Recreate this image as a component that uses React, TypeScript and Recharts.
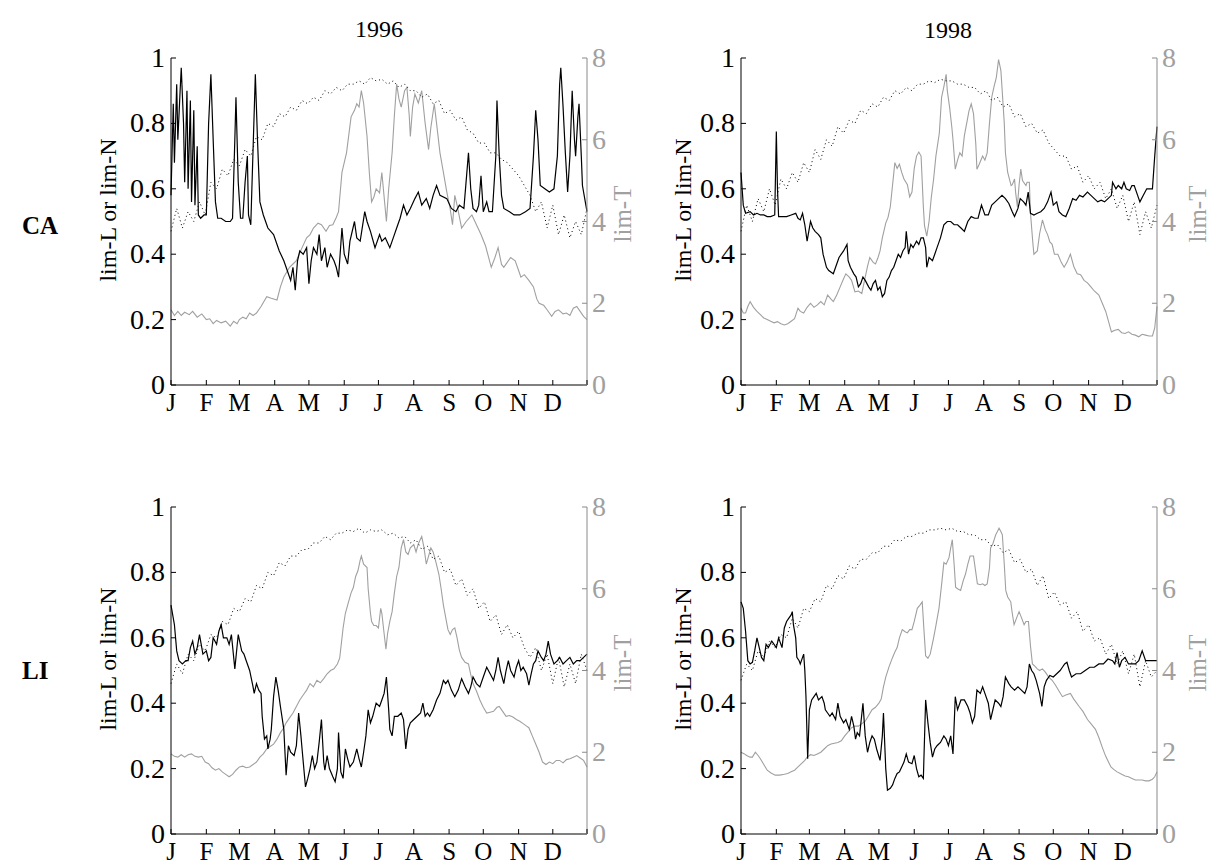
import { LineChart, Line, XAxis, YAxis } from "recharts";

type Pt = [number, number];

const FONT = '"Liberation Serif", "Times New Roman", serif';
const GRAY = "#a0a0a0";
const GRAY_AXIS = "#8a8a8a";

// axis ticks: month starts (day of year), lim scale and lim-T scale
const monthTicks = [0, 31, 60, 91, 121, 152, 182, 213, 244, 274, 305, 335, 365];
const monthLabels = ["J", "F", "M", "A", "M", "J", "J", "A", "S", "O", "N", "D", ""];
const limTicks = [0, 0.2, 0.4, 0.6, 0.8, 1];
const tTicks = [0, 2, 4, 6, 8];

// lim-N (solid black), [day, value]
const ca96N: Pt[] = [
  [0, 0.58], [2, 0.86], [3, 0.68], [5, 0.92], [6, 0.75], [8, 0.9], [9, 0.97], [11, 0.8], [12, 0.62], [14, 0.9],
  [15, 0.6], [17, 0.87], [18, 0.56], [20, 0.84], [21, 0.55], [23, 0.73], [24, 0.52], [26, 0.51], [29, 0.52], [31, 0.52],
  [33, 0.8], [35, 0.95], [37, 0.75], [39, 0.56], [41, 0.51], [44, 0.51], [48, 0.5], [52, 0.5], [54, 0.51], [56, 0.75],
  [57, 0.88], [59, 0.62], [61, 0.51], [63, 0.51], [65, 0.62], [67, 0.7], [68, 0.52], [70, 0.49], [72, 0.72], [74, 0.95],
  [76, 0.74], [78, 0.56], [81, 0.52], [85, 0.48], [90, 0.46], [95, 0.41], [99, 0.38], [102, 0.35], [105, 0.32], [107, 0.36],
  [109, 0.29], [111, 0.38], [113, 0.41], [116, 0.4], [119, 0.42], [121, 0.31], [123, 0.38], [125, 0.42], [128, 0.4], [130, 0.46],
  [132, 0.38], [135, 0.42], [137, 0.36], [140, 0.4], [143, 0.38], [145, 0.36], [147, 0.33], [150, 0.48], [152, 0.4], [155, 0.37],
  [157, 0.44], [161, 0.5], [163, 0.45], [166, 0.44], [170, 0.53], [172, 0.5], [175, 0.47], [179, 0.42], [183, 0.46], [185, 0.44],
  [188, 0.45], [192, 0.42], [196, 0.46], [198, 0.48], [201, 0.51], [204, 0.55], [207, 0.52], [210, 0.54], [214, 0.57], [217, 0.59],
  [220, 0.55], [224, 0.57], [227, 0.54], [230, 0.58], [233, 0.61], [236, 0.58], [242, 0.57], [246, 0.54], [250, 0.53], [253, 0.55],
  [257, 0.54], [261, 0.71], [263, 0.6], [265, 0.54], [268, 0.53], [270, 0.55], [272, 0.64], [274, 0.53], [277, 0.56], [279, 0.53],
  [282, 0.53], [285, 0.7], [286, 0.87], [288, 0.7], [290, 0.58], [292, 0.54], [297, 0.53], [301, 0.52], [306, 0.52], [311, 0.53],
  [315, 0.54], [318, 0.7], [320, 0.84], [322, 0.75], [324, 0.61], [328, 0.6], [332, 0.59], [336, 0.6], [339, 0.7], [341, 0.92],
  [342, 0.97], [344, 0.85], [346, 0.71], [348, 0.59], [350, 0.7], [352, 0.9], [354, 0.75], [355, 0.7], [357, 0.82], [358, 0.86],
  [360, 0.7], [361, 0.61], [364, 0.55], [365, 0.53],
];

const ca98N: Pt[] = [
  [0, 0.65], [2, 0.55], [4, 0.525], [8, 0.53], [11, 0.52], [14, 0.525], [17, 0.52], [20, 0.52], [23, 0.515], [26, 0.515],
  [29.6, 0.52], [31, 0.775], [32, 0.6], [33, 0.515], [37, 0.515], [40, 0.515], [44, 0.52], [48, 0.525], [50, 0.51], [52, 0.505],
  [54, 0.525], [56, 0.49], [58, 0.44], [61, 0.5], [63, 0.48], [65, 0.47], [68, 0.46], [70, 0.45], [72, 0.4], [75, 0.36],
  [77, 0.35], [81, 0.34], [84, 0.37], [86, 0.39], [88, 0.4], [90, 0.41], [93, 0.43], [94, 0.38], [96, 0.36], [99, 0.34],
  [101, 0.33], [103, 0.3], [105, 0.31], [107, 0.33], [109, 0.32], [112, 0.3], [114, 0.29], [116, 0.31], [118, 0.32], [120, 0.29],
  [122, 0.3], [124, 0.27], [126, 0.28], [128, 0.32], [130, 0.33], [132, 0.35], [134, 0.36], [136, 0.38], [138, 0.4], [140, 0.39],
  [142, 0.41], [144, 0.42], [145, 0.47], [147, 0.4], [149, 0.43], [151, 0.42], [154, 0.44], [156, 0.43], [158, 0.45], [160, 0.45],
  [162, 0.42], [163, 0.36], [165, 0.39], [168, 0.38], [170, 0.4], [172, 0.42], [175, 0.45], [178, 0.49], [181, 0.5], [184, 0.5],
  [187, 0.49], [190, 0.49], [193, 0.48], [196, 0.47], [199, 0.5], [202, 0.515], [205, 0.51], [208, 0.51], [211, 0.55], [214, 0.52],
  [217, 0.52], [220, 0.55], [223, 0.56], [226, 0.57], [229, 0.58], [232, 0.57], [235, 0.555], [238, 0.53], [240, 0.515], [243, 0.54],
  [245, 0.57], [248, 0.56], [250, 0.55], [252, 0.59], [254, 0.525], [257, 0.52], [260, 0.525], [263, 0.53], [266, 0.54], [269, 0.56],
  [272, 0.59], [274, 0.55], [277, 0.56], [279, 0.53], [282, 0.52], [285, 0.515], [288, 0.54], [291, 0.57], [294, 0.565], [297, 0.58],
  [300, 0.575], [304, 0.59], [307, 0.58], [310, 0.57], [313, 0.56], [316, 0.565], [319, 0.56], [322, 0.57], [325, 0.58], [326, 0.62],
  [329, 0.6], [331, 0.61], [334, 0.6], [336, 0.62], [338, 0.6], [341, 0.595], [343, 0.61], [345, 0.61], [348, 0.58], [350, 0.56],
  [353, 0.58], [356, 0.6], [359, 0.6], [361, 0.6], [363, 0.7], [365, 0.79],
];

const li96N: Pt[] = [
  [0, 0.7], [3, 0.64], [5, 0.56], [7, 0.53], [10, 0.52], [13, 0.53], [15, 0.53], [17, 0.57], [19, 0.59], [21, 0.55],
  [23, 0.57], [25, 0.61], [27, 0.57], [28, 0.55], [31, 0.56], [33, 0.53], [35, 0.54], [37, 0.6], [40, 0.58], [42, 0.62],
  [44, 0.64], [46, 0.6], [49, 0.6], [51, 0.58], [53, 0.61], [56, 0.505], [59, 0.61], [62, 0.56], [64, 0.55], [66, 0.53],
  [69, 0.5], [72, 0.45], [73, 0.43], [75, 0.46], [77, 0.44], [79, 0.43], [80, 0.36], [82, 0.29], [84, 0.3], [85, 0.26],
  [87, 0.29], [88, 0.32], [90, 0.42], [92, 0.48], [94, 0.44], [96, 0.39], [99, 0.32], [101, 0.18], [103, 0.27], [105, 0.25],
  [108, 0.24], [110, 0.27], [112, 0.37], [114, 0.3], [115, 0.26], [118, 0.144], [120, 0.17], [122, 0.2], [124, 0.24], [126, 0.2],
  [128, 0.22], [130, 0.28], [132, 0.35], [134, 0.22], [135, 0.195], [137, 0.24], [139, 0.2], [142, 0.175], [144, 0.16], [146, 0.2],
  [147, 0.31], [149, 0.19], [151, 0.17], [153, 0.26], [155, 0.23], [157, 0.205], [160, 0.22], [163, 0.26], [165, 0.23], [167, 0.205],
  [169, 0.25], [171, 0.3], [173, 0.38], [175, 0.34], [177, 0.36], [180, 0.4], [183, 0.39], [185, 0.41], [187, 0.43], [189, 0.48],
  [191, 0.38], [192, 0.32], [194, 0.3], [196, 0.36], [199, 0.36], [202, 0.37], [204, 0.35], [206, 0.26], [208, 0.32], [210, 0.34],
  [213, 0.35], [216, 0.36], [219, 0.37], [221, 0.4], [223, 0.36], [225, 0.37], [227, 0.36], [230, 0.38], [233, 0.41], [236, 0.43],
  [239, 0.47], [241, 0.46], [243, 0.47], [246, 0.44], [249, 0.42], [252, 0.44], [255, 0.475], [258, 0.45], [261, 0.43], [263, 0.45],
  [265, 0.48], [268, 0.46], [271, 0.45], [274, 0.48], [277, 0.51], [280, 0.49], [283, 0.47], [285, 0.5], [287, 0.54], [289, 0.5],
  [292, 0.46], [294, 0.5], [296, 0.53], [298, 0.5], [301, 0.48], [303, 0.51], [305, 0.53], [307, 0.5], [309, 0.51], [312, 0.49],
  [314, 0.455], [316, 0.49], [318, 0.52], [320, 0.53], [322, 0.56], [325, 0.54], [327, 0.53], [329, 0.55], [331, 0.59], [333, 0.55],
  [336, 0.52], [339, 0.53], [341, 0.54], [344, 0.52], [347, 0.53], [350, 0.54], [353, 0.52], [356, 0.53], [359, 0.53], [362, 0.54],
  [365, 0.55],
];

const li98N: Pt[] = [
  [0, 0.71], [2, 0.69], [4, 0.62], [6, 0.53], [8, 0.52], [10, 0.525], [12, 0.56], [14, 0.6], [16, 0.57], [18, 0.54],
  [20, 0.53], [22, 0.58], [24, 0.57], [27, 0.59], [29, 0.58], [31, 0.57], [33, 0.6], [35, 0.58], [36, 0.57], [38, 0.63],
  [40, 0.65], [42, 0.66], [44, 0.67], [45, 0.68], [46, 0.64], [48, 0.6], [49, 0.54], [51, 0.53], [52, 0.52], [54, 0.54],
  [55, 0.55], [56, 0.5], [57, 0.42], [58.5, 0.23], [60, 0.38], [62, 0.41], [64, 0.42], [66, 0.43], [68, 0.41], [71, 0.42],
  [73, 0.4], [74, 0.38], [76, 0.37], [78, 0.36], [80, 0.37], [83, 0.35], [85, 0.4], [87, 0.36], [90, 0.34], [92, 0.35],
  [95, 0.32], [97, 0.36], [99, 0.33], [100.5, 0.29], [102, 0.31], [104, 0.3], [107, 0.4], [109, 0.3], [111, 0.25], [113, 0.28],
  [115, 0.3], [117, 0.29], [119, 0.26], [122, 0.225], [124, 0.3], [125, 0.37], [127, 0.2], [128.5, 0.134], [131, 0.14], [133, 0.15],
  [135, 0.17], [137, 0.185], [139, 0.19], [141, 0.205], [143, 0.22], [145, 0.245], [147, 0.22], [150, 0.215], [152, 0.24], [154, 0.2],
  [156, 0.175], [158, 0.18], [160, 0.17], [162, 0.41], [164, 0.34], [166, 0.28], [168, 0.235], [170, 0.26], [172, 0.27], [175, 0.28],
  [178, 0.3], [180, 0.29], [182, 0.27], [184, 0.3], [186, 0.245], [188, 0.42], [190, 0.38], [193, 0.41], [196, 0.41], [199, 0.39],
  [201, 0.37], [203, 0.34], [205, 0.36], [207, 0.44], [210, 0.43], [212, 0.45], [214, 0.43], [217, 0.4], [219, 0.35], [221, 0.38],
  [223, 0.41], [226, 0.4], [228, 0.39], [230, 0.42], [232, 0.48], [235, 0.46], [237, 0.45], [240, 0.44], [243, 0.45], [246, 0.44],
  [249, 0.43], [251, 0.45], [253, 0.52], [255, 0.5], [257, 0.49], [259, 0.47], [262, 0.43], [264, 0.39], [266, 0.45], [268, 0.47],
  [271, 0.485], [274, 0.48], [277, 0.49], [280, 0.5], [282, 0.51], [284, 0.52], [286, 0.525], [288, 0.5], [290, 0.48], [294, 0.49],
  [298, 0.49], [302, 0.5], [306, 0.51], [310, 0.51], [314, 0.52], [318, 0.52], [322, 0.535], [326, 0.53], [328, 0.52], [330, 0.555],
  [332, 0.51], [334, 0.53], [337, 0.54], [340, 0.52], [343, 0.52], [346, 0.52], [349, 0.53], [352, 0.56], [355, 0.53], [358, 0.53],
  [361, 0.53], [365, 0.53],
];

// lim-T (gray, right axis), [day, value]
const ca96T: Pt[] = [
  [0, 1.84], [3, 1.7], [6, 1.8], [9, 1.7], [12, 1.78], [16, 1.72], [19, 1.8], [23, 1.66], [27, 1.74], [31, 1.6],
  [34, 1.62], [37, 1.5], [40, 1.58], [44, 1.52], [48, 1.56], [52, 1.44], [55, 1.56], [58, 1.5], [60, 1.6], [63, 1.66],
  [66, 1.62], [69, 1.76], [72, 1.7], [75, 1.76], [79, 1.92], [84, 2.16], [88, 2.12], [93, 2.08], [96, 2.4], [99, 2.64],
  [104, 2.88], [107, 2.96], [110, 3.04], [114, 3.3], [119, 3.6], [122, 3.68], [125, 3.84], [129, 3.96], [132, 3.92], [136, 3.76],
  [139, 3.9], [142, 3.92], [145, 4.1], [147, 4.24], [150, 5.2], [154, 5.68], [158, 6.56], [161, 6.72], [163, 6.88], [165, 6.8],
  [167, 7.2], [169, 6.9], [172, 6.08], [174, 5.2], [176, 4.48], [178, 4.6], [180, 4.8], [183, 4.7], [185, 5.2], [187, 4.6],
  [189, 4.0], [191, 4.8], [194, 5.68], [196, 6.6], [198, 7.36], [200, 7.0], [202, 6.8], [205, 7.2], [207, 7.28], [209, 6.6],
  [210, 6.08], [212, 6.8], [214, 7.12], [217, 6.9], [220, 7.2], [223, 6.4], [226, 5.76], [228, 6.3], [231, 6.88], [233, 6.4],
  [236, 5.68], [239, 5.2], [242, 4.72], [245, 4.3], [247, 3.92], [249, 4.64], [251, 4.4], [255, 3.84], [259, 4.0], [264, 4.16],
  [268, 3.92], [272, 3.68], [276, 3.4], [281, 2.88], [284, 3.1], [287, 3.36], [290, 2.95], [292, 2.88], [295, 3.0], [298, 3.12],
  [302, 3.04], [305, 2.8], [307, 2.64], [310, 2.7], [314, 2.56], [318, 2.4], [321, 2.1], [323, 2.0], [327, 1.95], [330, 1.84],
  [334, 1.68], [337, 1.8], [340, 1.84], [344, 1.74], [347, 1.76], [350, 1.7], [353, 1.88], [356, 1.92], [359, 1.8], [362, 1.68],
  [365, 1.6],
];

const ca98T: Pt[] = [
  [0, 1.88], [2, 1.76], [4, 1.76], [6, 1.92], [8, 2.04], [11, 1.9], [14, 1.8], [17, 1.72], [20, 1.64], [23, 1.6],
  [26, 1.56], [29, 1.52], [32, 1.55], [35, 1.5], [38, 1.47], [41, 1.5], [44, 1.56], [47, 1.62], [50, 1.88], [52, 1.8],
  [55, 1.76], [58, 1.9], [61, 2.0], [64, 1.9], [67, 1.96], [70, 2.04], [73, 1.96], [76, 2.2], [79, 2.1], [81, 2.04],
  [84, 2.2], [87, 2.4], [90, 2.6], [92, 2.72], [95, 2.64], [97, 2.56], [100, 2.28], [103, 2.3], [106, 2.24], [109, 2.64],
  [111, 2.9], [113, 3.12], [116, 3.0], [118, 2.96], [120, 3.1], [122, 3.28], [124, 3.6], [127, 3.96], [129, 4.1], [131, 4.36],
  [133, 4.9], [135, 5.44], [137, 5.3], [139, 5.4], [141, 5.2], [143, 5.04], [146, 4.9], [148, 4.6], [150, 4.72], [152, 5.3],
  [154, 5.6], [156, 5.7], [158, 5.6], [160, 4.36], [161, 3.9], [163, 3.64], [165, 4.0], [167, 4.6], [169, 5.04], [171, 5.6],
  [174, 6.16], [176, 7.04], [178, 7.3], [180, 7.6], [181, 7.2], [183, 6.8], [185, 6.3], [186, 6.0], [188, 5.28], [190, 5.5],
  [192, 5.68], [194, 5.6], [196, 6.1], [198, 6.4], [200, 6.7], [202, 6.88], [204, 6.64], [206, 5.9], [207, 5.28], [209, 5.4],
  [212, 5.6], [214, 5.5], [216, 5.68], [218, 6.4], [220, 7.04], [222, 7.3], [224, 7.52], [226, 7.96], [228, 7.7], [229, 7.28],
  [231, 6.4], [232, 5.68], [234, 5.2], [237, 4.88], [238, 4.9], [240, 5.04], [241, 4.7], [242.5, 4.36], [244, 4.9], [245.5, 5.28],
  [247, 5.0], [250, 4.88], [251, 4.96], [253, 4.96], [254, 4.2], [256, 3.5], [257, 3.2], [260, 3.28], [262, 3.7], [264.5, 4.04],
  [267, 3.8], [269, 3.68], [271, 3.5], [273, 3.44], [275, 3.2], [278, 3.2], [281, 3.0], [283.5, 2.88], [286, 3.0], [289, 3.2],
  [292, 2.9], [295, 2.72], [298, 2.7], [301, 2.56], [304, 2.5], [307, 2.4], [310, 2.3], [314, 2.2], [317, 2.0], [320, 1.8],
  [323, 1.5], [325, 1.3], [328, 1.34], [331, 1.36], [334, 1.28], [337, 1.26], [340, 1.3], [343, 1.24], [346, 1.22], [349, 1.18],
  [352, 1.24], [355, 1.22], [358, 1.2], [361, 1.2], [363, 1.4], [365, 1.92],
];

const li96T: Pt[] = [
  [0, 1.96], [3, 1.9], [6, 1.88], [9, 1.94], [12, 1.88], [15, 1.94], [18, 1.96], [21, 1.9], [24, 1.88], [27, 1.9],
  [30, 1.76], [33, 1.72], [36, 1.62], [39, 1.56], [42, 1.6], [45, 1.52], [48, 1.46], [51, 1.4], [54, 1.46], [57, 1.56],
  [60, 1.64], [63, 1.66], [66, 1.62], [69, 1.64], [72, 1.7], [75, 1.76], [78, 1.88], [81, 1.96], [84, 2.08], [87, 2.14],
  [90, 2.2], [93, 2.32], [96, 2.48], [99, 2.6], [101, 2.72], [104, 2.84], [107, 2.96], [110, 3.12], [113, 3.28], [116, 3.4],
  [119, 3.52], [122, 3.68], [125, 3.6], [128, 3.76], [131, 3.7], [134, 3.8], [137, 3.92], [140, 4.0], [143, 4.04], [146, 4.16],
  [148, 4.3], [151, 5.04], [153, 5.4], [155, 5.6], [158, 5.9], [160, 6.03], [162, 6.3], [164, 6.44], [166, 6.7], [167, 6.8],
  [169, 6.6], [172, 6.52], [173, 6.0], [175, 5.4], [176, 5.2], [178, 5.1], [180, 5.1], [182, 5.04], [184, 5.52], [185, 5.4],
  [187, 4.9], [188.6, 4.52], [190, 4.9], [192, 5.2], [194, 5.44], [196, 5.9], [198, 6.3], [200, 6.52], [202, 7.0], [204, 7.2],
  [206, 6.9], [208, 6.84], [210, 7.0], [213, 7.08], [215, 6.9], [217, 7.1], [220, 7.28], [222, 7.0], [224, 6.6], [226, 6.8],
  [228, 7.0], [230, 6.9], [232, 6.7], [235, 6.36], [237, 6.0], [239, 5.6], [241, 5.3], [243, 5.0], [245, 4.88], [247, 5.0],
  [249, 5.04], [251, 4.8], [253, 4.5], [255, 4.32], [258, 4.2], [261, 4.16], [263, 3.9], [265, 3.68], [268, 3.5], [271, 3.28],
  [274, 3.1], [277, 2.96], [280, 2.98], [283, 3.0], [286, 3.1], [288, 3.12], [291, 3.0], [294, 2.88], [297, 2.9], [300, 2.86],
  [303, 2.8], [306, 2.76], [309, 2.7], [312, 2.64], [314, 2.6], [317, 2.4], [320, 2.2], [323, 2.0], [326, 1.76], [329, 1.7],
  [332, 1.76], [335, 1.72], [338, 1.8], [341, 1.8], [344, 1.74], [347, 1.82], [350, 1.84], [353, 1.88], [356, 1.92], [359, 1.86],
  [362, 1.8], [365, 1.64],
];

const li98T: Pt[] = [
  [0, 2.0], [3, 1.96], [5, 1.92], [8, 1.88], [10, 1.88], [12.6, 2.0], [15, 1.92], [17, 1.84], [20, 1.7], [23, 1.56],
  [26, 1.5], [30, 1.44], [34, 1.44], [38, 1.46], [41, 1.48], [44, 1.52], [47, 1.56], [50, 1.64], [53, 1.72], [56, 1.8],
  [58, 1.88], [61, 1.94], [64, 1.92], [67, 1.96], [70, 2.0], [73, 2.08], [76, 2.16], [79, 2.2], [82, 2.22], [85, 2.24],
  [88, 2.28], [91, 2.4], [94, 2.5], [97, 2.6], [100, 2.64], [103, 2.64], [106, 2.7], [109, 2.76], [112, 2.9], [115, 3.04],
  [118, 3.1], [121, 3.2], [123, 3.3], [125, 3.6], [127, 3.84], [130, 4.1], [133, 4.32], [135, 4.45], [137, 4.56], [139, 4.8],
  [141.5, 5.0], [144, 4.95], [146, 4.92], [148, 5.0], [150, 5.0], [152, 5.2], [154.7, 5.52], [157, 5.6], [159, 5.68], [160.5, 5.0],
  [162, 4.36], [164, 4.3], [166, 4.4], [169, 4.8], [171, 5.1], [173.7, 5.52], [176, 6.1], [178, 6.64], [180, 6.6], [182.5, 6.76],
  [184, 7.0], [185.4, 7.2], [187, 6.6], [188.3, 6.04], [190, 6.0], [192.7, 5.96], [195, 6.2], [197, 6.36], [199, 6.6], [201, 6.8],
  [204, 6.8], [206, 6.4], [207.4, 6.12], [210, 6.1], [212, 6.12], [214, 6.08], [216, 6.12], [218, 6.5], [219, 7.0], [221, 7.1],
  [223.5, 7.32], [225, 7.4], [226.4, 7.48], [228, 7.4], [229.3, 7.32], [231, 6.6], [232.3, 5.96], [234, 5.8], [236.7, 5.68], [238, 5.4],
  [239.6, 5.12], [242, 5.3], [244, 5.44], [246, 5.3], [248.4, 5.12], [250, 5.2], [252.2, 5.2], [254, 4.6], [255.7, 4.16], [258, 4.1],
  [260, 4.04], [262, 4.0], [264.5, 4.04], [267, 3.96], [270, 3.84], [273, 3.76], [276, 3.64], [279, 3.5], [282, 3.36], [285, 3.4],
  [289, 3.44], [292, 3.3], [296.7, 3.12], [300, 3.0], [304, 2.8], [307, 2.7], [311, 2.56], [314, 2.36], [317, 2.12], [320, 1.9],
  [324.6, 1.64], [327, 1.58], [330, 1.52], [334, 1.46], [337, 1.42], [340, 1.4], [343, 1.36], [346, 1.32], [349, 1.32], [352, 1.32],
  [355, 1.3], [358, 1.3], [361, 1.34], [363, 1.4], [365, 1.52],
];

// lim-L (dotted black), one value every 5 days from 1 Jan
const L_STEP = 5;
const ca96L = [
  0.47, 0.54, 0.48, 0.53, 0.5, 0.56, 0.52, 0.62, 0.6, 0.66,
  0.64, 0.69, 0.67, 0.72, 0.7, 0.76, 0.75, 0.8, 0.79, 0.83,
  0.82, 0.85, 0.84, 0.87, 0.86, 0.88, 0.87, 0.9, 0.89, 0.91,
  0.9, 0.92, 0.92, 0.93, 0.92, 0.94, 0.93, 0.935, 0.92, 0.93,
  0.91, 0.92, 0.9, 0.9, 0.88, 0.89, 0.86, 0.87, 0.83, 0.84,
  0.81, 0.82, 0.78, 0.77, 0.74, 0.74, 0.71, 0.71, 0.69, 0.68,
  0.66, 0.64, 0.61, 0.58, 0.53, 0.56, 0.48, 0.55, 0.46, 0.52,
  0.45, 0.5, 0.46, 0.54,
];
const ca98L = [
  0.47, 0.55, 0.5, 0.57, 0.53, 0.6, 0.55, 0.63, 0.6, 0.65,
  0.62, 0.68, 0.65, 0.72, 0.69, 0.75, 0.73, 0.79, 0.77, 0.81,
  0.8, 0.84, 0.83, 0.86, 0.85, 0.88, 0.87, 0.9, 0.89, 0.91,
  0.9, 0.92, 0.92, 0.93, 0.925, 0.935, 0.93, 0.93, 0.92, 0.92,
  0.91, 0.91, 0.89, 0.9, 0.87, 0.88, 0.85, 0.86, 0.82, 0.83,
  0.79, 0.8, 0.77, 0.78, 0.74, 0.72, 0.7, 0.7, 0.66, 0.67,
  0.62, 0.64, 0.6, 0.62, 0.57, 0.6, 0.54, 0.58, 0.5, 0.56,
  0.46, 0.53, 0.48, 0.55,
];
const li96L = [
  0.46, 0.52, 0.49, 0.55, 0.53, 0.58, 0.56, 0.61, 0.6, 0.65,
  0.64, 0.69, 0.68, 0.72, 0.71, 0.76, 0.75, 0.8, 0.79, 0.83,
  0.82, 0.85, 0.85, 0.87, 0.87, 0.89, 0.89, 0.91, 0.9, 0.92,
  0.92, 0.93, 0.925, 0.935, 0.92, 0.93, 0.925, 0.93, 0.915, 0.92,
  0.905, 0.91, 0.89, 0.9, 0.87, 0.88, 0.84, 0.85, 0.8, 0.81,
  0.76, 0.78, 0.73, 0.75, 0.69, 0.71, 0.65, 0.67, 0.61, 0.64,
  0.6, 0.62, 0.57, 0.54, 0.57, 0.5, 0.55, 0.46, 0.54, 0.45,
  0.52, 0.46, 0.55, 0.5,
];
const li98L = [
  0.47, 0.52, 0.5, 0.56, 0.54, 0.59, 0.57, 0.61, 0.6, 0.66,
  0.63, 0.69, 0.68, 0.72, 0.71, 0.76, 0.75, 0.79, 0.78, 0.82,
  0.81, 0.84, 0.84, 0.86, 0.86, 0.88, 0.88, 0.9, 0.895, 0.91,
  0.91, 0.92, 0.92, 0.93, 0.93, 0.935, 0.93, 0.935, 0.925, 0.925,
  0.915, 0.915, 0.9, 0.9, 0.88, 0.885, 0.86, 0.87, 0.83, 0.84,
  0.8, 0.81, 0.76, 0.79, 0.72, 0.74, 0.7, 0.71, 0.66, 0.68,
  0.62, 0.64, 0.59, 0.6, 0.55, 0.58, 0.52, 0.56, 0.49, 0.55,
  0.45, 0.53, 0.48, 0.5,
];

const rows = (pts: Pt[]) => pts.map(([day, v]) => ({ day, v }));
const stepRows = (vals: number[]) => vals.map((v, i) => ({ day: Math.min(i * L_STEP, 365), v }));

// plot-area geometry; TOP_PAD leaves room for the "1" / "8" labels at the top
const PLOT_W = 416;
const PLOT_H = 327;
const LEFT_W = 60;
const RIGHT_W = 50;
const BOTTOM_H = 34;
const TOP_PAD = 20;

const MonthTick = (props: any) => {
  const { x, y, payload } = props;
  const label = monthLabels[monthTicks.indexOf(payload.value)];
  return (
    <g>
      <line x1={x} x2={x} y1={y} y2={y - 5} stroke="#000" />
      <text x={x} y={y + 26} textAnchor="middle" fontFamily={FONT} fontSize={25} fill="#000">
        {label}
      </text>
    </g>
  );
};

const TopTick = (props: any) => {
  const { x, y } = props;
  return <line x1={x} x2={x} y1={y} y2={y + 5} stroke="#000" />;
};

const LimTick = (props: any) => {
  const { x, y, payload } = props;
  return (
    <g>
      <line x1={x} x2={x + 5} y1={y} y2={y} stroke="#000" />
      <text x={x - 6} y={y + 9} textAnchor="end" fontFamily={FONT} fontSize={28} fill="#000">
        {String(payload.value)}
      </text>
    </g>
  );
};

const MirrorTick = (props: any) => {
  const { x, y } = props;
  return <line x1={x} x2={x - 5} y1={y} y2={y} stroke="#000" />;
};

const TTick = (props: any) => {
  const { x, y, payload } = props;
  return (
    <g>
      <line x1={x} x2={x - 5} y1={y} y2={y} stroke={GRAY_AXIS} />
      <text x={x + 5} y={y + 9} textAnchor="start" fontFamily={FONT} fontSize={28} fill={GRAY}>
        {String(payload.value)}
      </text>
    </g>
  );
};

type PanelProps = { left: number; top: number; n: Pt[]; t: Pt[]; l: number[] };

const Panel = ({ left, top, n, t, l }: PanelProps) => (
  <div style={{ position: "absolute", left: left - LEFT_W, top: top - TOP_PAD }}>
    <LineChart
      width={LEFT_W + PLOT_W + RIGHT_W}
      height={TOP_PAD + PLOT_H + BOTTOM_H}
      margin={{ top: TOP_PAD, right: 0, bottom: 0, left: 0 }}
    >
      <XAxis
        xAxisId="b"
        type="number"
        dataKey="day"
        domain={[0, 365]}
        ticks={monthTicks}
        interval={0}
        height={BOTTOM_H}
        tickSize={0}
        tickMargin={0}
        tickLine={false}
        axisLine={{ stroke: "#000" }}
        tick={MonthTick}
      />
      <XAxis
        xAxisId="t"
        orientation="top"
        type="number"
        dataKey="day"
        domain={[0, 365]}
        ticks={monthTicks}
        interval={0}
        height={0}
        tickSize={0}
        tickMargin={0}
        tickLine={false}
        axisLine={{ stroke: "#000" }}
        tick={TopTick}
      />
      <YAxis
        yAxisId="l"
        domain={[0, 1]}
        ticks={limTicks}
        interval={0}
        width={LEFT_W}
        tickSize={0}
        tickMargin={0}
        tickLine={false}
        axisLine={{ stroke: "#000" }}
        tick={LimTick}
      />
      <YAxis
        yAxisId="lm"
        orientation="right"
        domain={[0, 1]}
        ticks={limTicks}
        interval={0}
        width={0}
        tickSize={0}
        tickMargin={0}
        tickLine={false}
        axisLine={false}
        tick={MirrorTick}
      />
      <YAxis
        yAxisId="r"
        orientation="right"
        domain={[0, 8]}
        ticks={tTicks}
        interval={0}
        width={RIGHT_W}
        tickSize={0}
        tickMargin={0}
        tickLine={false}
        axisLine={{ stroke: GRAY_AXIS }}
        tick={TTick}
      />
      <Line
        xAxisId="b"
        yAxisId="r"
        data={rows(t)}
        dataKey="v"
        stroke={GRAY}
        strokeWidth={1.1}
        dot={false}
        activeDot={false}
        isAnimationActive={false}
      />
      <Line
        xAxisId="b"
        yAxisId="l"
        data={stepRows(l)}
        dataKey="v"
        stroke="#000"
        strokeWidth={1}
        strokeDasharray="1 3"
        dot={false}
        activeDot={false}
        isAnimationActive={false}
      />
      <Line
        xAxisId="b"
        yAxisId="l"
        data={rows(n)}
        dataKey="v"
        stroke="#000"
        strokeWidth={1.2}
        dot={false}
        activeDot={false}
        isAnimationActive={false}
      />
    </LineChart>
  </div>
);

const Labels = () => (
  <svg
    width={1212}
    height={867}
    style={{ position: "absolute", left: 0, top: 0, pointerEvents: "none" }}
    fontFamily={FONT}
  >
    <text x={379} y={37} textAnchor="middle" fontSize={24}>1996</text>
    <text x={948} y={38} textAnchor="middle" fontSize={24}>1998</text>
    <text x={22} y={234} fontSize={25} fontWeight="bold">CA</text>
    <text x={22} y={679} fontSize={25} fontWeight="bold">LI</text>
    {[
      [108, 210],
      [683, 210],
      [108, 659],
      [683, 659],
    ].map(([x, y], i) => (
      <text key={`yl${i}`} x={x} y={y} transform={`rotate(-90 ${x} ${y})`} dy={8} textAnchor="middle" fontSize={24}>
        lim-L or lim-N
      </text>
    ))}
    {[
      [623, 214],
      [1198, 214],
      [623, 663],
      [1198, 663],
    ].map(([x, y], i) => (
      <text key={`yr${i}`} x={x} y={y} transform={`rotate(-90 ${x} ${y})`} dy={8} textAnchor="middle" fontSize={25} fill={GRAY}>
        lim-T
      </text>
    ))}
  </svg>
);

export default function App() {
  return (
    <div style={{ position: "absolute", left: 0, top: 0, width: 1212, height: 867, background: "#fff" }}>
      <Panel left={171} top={58} n={ca96N} t={ca96T} l={ca96L} />
      <Panel left={741} top={58} n={ca98N} t={ca98T} l={ca98L} />
      <Panel left={171} top={507} n={li96N} t={li96T} l={li96L} />
      <Panel left={741} top={507} n={li98N} t={li98T} l={li98L} />
      <Labels />
    </div>
  );
}
